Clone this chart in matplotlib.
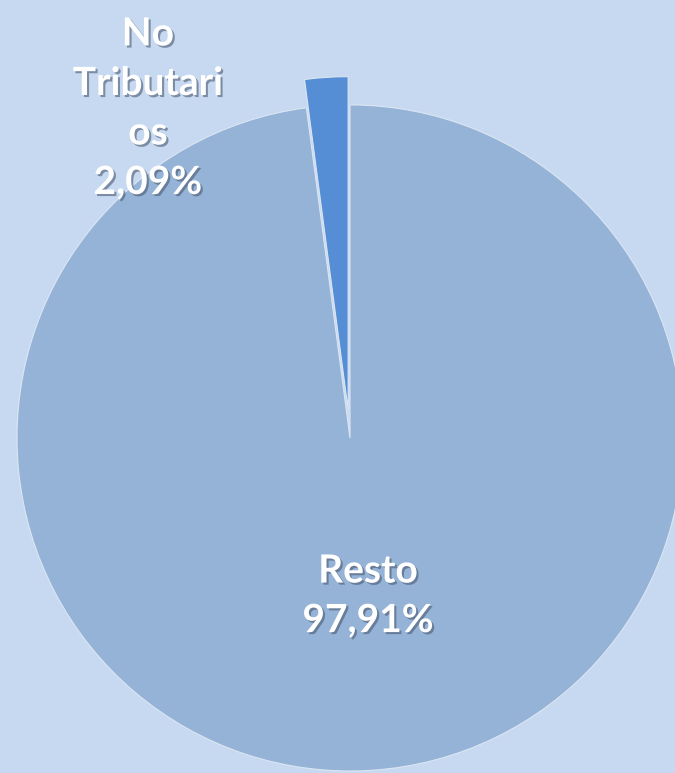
import matplotlib
matplotlib.use('Agg')
import matplotlib.pyplot as plt
import matplotlib.patheffects as pe

# datos
labels = ['No\nTributari\nos', 'Resto']
values = [2.09, 97.91]
colors = ['#558ED5', '#95B3D7']
explode = [0.085, 0.0]
label_pos = [(-0.607, 0.99), (0.054, -0.474)]

bg = '#C6D9F1'

fig = plt.figure(figsize=(6.75, 7.73), dpi=100)
fig.patch.set_facecolor(bg)
ax = fig.add_axes([0, 0, 1, 1])
ax.set_facecolor(bg)

wedges, _ = ax.pie(values, colors=colors, explode=explode, startangle=90,
                   counterclock=True, radius=1.0,
                   wedgeprops=dict(edgecolor='#DCE6F2', linewidth=0.8))

ax.set_xlim(-1.051, 0.976)
ax.set_ylim(-1.006, 1.315)
ax.set_aspect('auto')
ax.axis('off')

# etiquetas con sombra
shadow = [pe.SimplePatchShadow(offset=(1.5, -1.5), shadow_rgbFace='#4A5A70', alpha=0.6),
          pe.Normal()]
for lab, val, (x, y) in zip(labels, values, label_pos):
    txt = '{}\n{:.2f}%'.format(lab, val).replace('.', ',')
    ax.text(x, y, txt, ha='center', va='center', color='white',
            fontsize=28, fontweight='bold', family=['Lato', 'DejaVu Sans'],
            linespacing=1.5, path_effects=shadow)

fig.savefig('out.png', dpi=100, facecolor=bg)
